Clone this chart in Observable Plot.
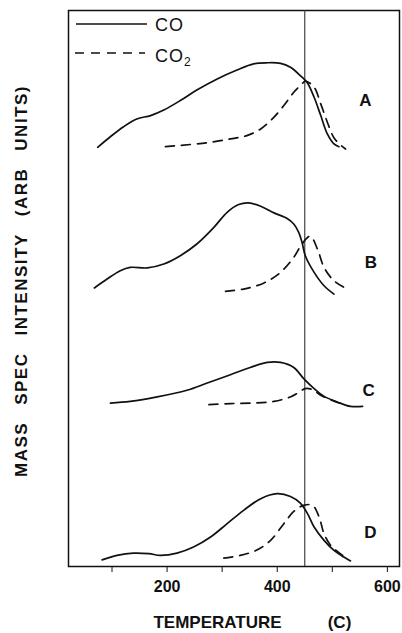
<!DOCTYPE html>
<html><head><meta charset="utf-8">
<script src="https://cdn.jsdelivr.net/npm/d3@7"></script>
<script src="https://cdn.jsdelivr.net/npm/@observablehq/plot@0.6"></script>
<style>body{margin:0;background:#fff}</style>
</head><body><div id="chart"></div>
<script>
// Temperature (C) vs. mass spec intensity (arbitrary units, stacked panels A-D)
const panels = ["A", "B", "C", "D"];
const gases = ["CO", "CO\u2082"];
const xTicks = [100, 200, 300, 400, 500, 600];
const xTickLabels = [200, 400, 600];
const markerTemp = 450;

const coA = [[74,75.4],[97,77.3],[121,79.1],[145,80.5],[170,81.1],[194,82.1],[224,83.8],[254,85.7],[291,87.7],[327,89.3],[357,90.4],[382,90.6],[406,90.5],[424,89.8],[442,88.3],[454,87.1],[467,84.4],[479,81.1],[491,77.8],[503,76.0],[512,75.5]];
const co2A = [[197,75.5],[242,75.9],[279,76.3],[315,76.9],[345,77.5],[370,78.7],[391,80.5],[412,82.9],[430,85.3],[445,86.8],[451,87.3],[467,86.2],[479,83.2],[491,79.9],[503,77.1],[515,75.8],[524,75.1]];
const coB = [[68,50.1],[91,51.7],[115,53.2],[133,53.8],[164,53.7],[194,54.4],[224,55.9],[254,58.0],[285,61.0],[309,63.7],[330,65.1],[348,65.4],[370,64.8],[394,63.6],[418,62.6],[430,61.6],[439,60.1],[445,58.3],[451,55.9],[467,52.9],[485,50.5],[503,49.0]];
const co2B = [[306,49.5],[339,49.9],[376,51.0],[406,52.9],[430,55.6],[445,58.0],[460,59.4],[473,57.1],[485,53.8],[503,51.4],[525,50.0]];
const coC = [[97,29.4],[133,29.7],[182,30.5],[236,31.7],[273,33.0],[315,34.5],[351,35.8],[382,36.7],[406,36.7],[430,35.8],[448,33.8],[467,32.0],[485,30.6],[509,29.6],[533,28.8],[555,28.8]];
const co2C = [[276,29.1],[315,29.3],[357,29.4],[394,29.7],[424,30.5],[439,31.3],[451,32.0],[464,31.8],[479,30.8],[497,30.0],[515,29.3]];
const coD = [[82,1.2],[109,2.0],[139,2.4],[167,2.3],[188,2.0],[218,2.4],[248,3.5],[279,5.3],[309,7.7],[339,10.1],[370,12.2],[400,13.1],[424,12.6],[442,11.4],[455,9.5],[467,7.1],[485,4.7],[503,2.9],[521,1.7],[533,1.0]];
const co2D = [[303,1.5],[333,2.0],[364,3.0],[388,4.7],[412,7.7],[430,9.9],[448,11.0],[464,11.0],[476,8.9],[485,5.9],[497,3.8],[512,2.5],[528,1.3]];

// panel label anchor positions (temperature, intensity)
const labelTemp = [560, 570, 566, 569];
const labelVal = [83.8, 54.7, 31.7, 6.1];

const yTitleWords = ["MASS", "SPEC", "INTENSITY", "(ARB", "UNITS)"];
const xTitleWords = ["TEMPERATURE", "(C)"];

const coSeries = [coA, coB, coC, coD];
const co2Series = [co2A, co2B, co2C, co2D];

const toRows = (series, gas) => series.flatMap((pts, i) => pts.map(([t, v]) => ({panel: panels[i], gas, t, v})));
const coRows = toRows(coSeries, gases[0]);
const co2Rows = toRows(co2Series, gases[1]);
const labelRows = panels.map((p, i) => ({p, t: labelTemp[i], v: labelVal[i]}));

const font = "'Liberation Sans', Arial, Helvetica, sans-serif";

const chart = Plot.plot({
  width: 402,
  height: 633,
  marginLeft: 68,
  marginRight: 3,
  marginTop: 10,
  marginBottom: 67,
  style: {fontFamily: font, background: "#fff", color: "#111"},
  x: {domain: [21, 622]},
  y: {domain: [0, 100], axis: null},
  marks: [
    Plot.frame({stroke: "#111", strokeWidth: 1.5}),
    Plot.ruleX([markerTemp], {stroke: "#333", strokeWidth: 1.1}),
    Plot.axisX({ticks: xTicks, tickSize: 6, tickPadding: 8, fontSize: 16, fontWeight: "bold",
      tickFormat: d => xTickLabels.includes(d) ? String(d) : "", label: null, stroke: "#111"}),
    Plot.line(coRows, {x: "t", y: "v", z: "panel", curve: "catmull-rom", stroke: "#111", strokeWidth: 1.7}),
    Plot.line(co2Rows, {x: "t", y: "v", z: "panel", curve: "catmull-rom", stroke: "#111", strokeWidth: 1.7, strokeDasharray: "9,7"}),
    Plot.text(labelRows, {x: "t", y: "v", text: "p", fontSize: 17, fontWeight: "bold", fill: "#111", textAnchor: "middle"})
  ]
});

document.getElementById("chart").appendChild(chart);
const svg = d3.select(chart);

// legend
const lg = svg.append("g").attr("font-family", font).attr("fill", "#111").attr("text-anchor", "start");
lg.append("line").attr("x1", 76).attr("x2", 147).attr("y1", 24).attr("y2", 24).attr("stroke", "#111").attr("stroke-width", 1.7);
lg.append("line").attr("x1", 75).attr("x2", 145).attr("y1", 53).attr("y2", 53).attr("stroke", "#111").attr("stroke-width", 1.7).attr("stroke-dasharray", "9,7");
lg.append("text").attr("x", 155).attr("y", 30.5).attr("font-size", 18).attr("letter-spacing", 1).text("CO");
const t2 = lg.append("text").attr("x", 155).attr("y", 62).attr("font-size", 18).attr("letter-spacing", 1).text("CO");
t2.append("tspan").attr("font-size", 12).attr("dy", 4).text("2");

// y axis title: words laid out bottom-to-top between y=477 and y=85
const yg = svg.append("g").attr("font-family", font).attr("font-weight", "bold").attr("font-size", 17)
  .attr("letter-spacing", 1.5).attr("fill", "#111").attr("text-anchor", "start");
const nodes = yTitleWords.map(w => yg.append("text").text(w));
const widths = nodes.map(n => n.node().getComputedTextLength());
const yBottom = 477, yTop = 85;
const gap = Math.max(6, ((yBottom - yTop) - d3.sum(widths)) / (yTitleWords.length - 1));
let pos = yBottom;
nodes.forEach((n, i) => {
  n.attr("transform", `translate(27,${pos}) rotate(-90)`);
  pos -= widths[i] + gap;
});

// x axis title
const xg = svg.append("g").attr("font-family", font).attr("font-weight", "bold").attr("font-size", 17).attr("fill", "#111").attr("text-anchor", "middle");
xg.append("text").attr("x", 217.5).attr("y", 628).text(xTitleWords[0]);
xg.append("text").attr("x", 339.5).attr("y", 628).text(xTitleWords[1]);
</script>
</body></html>
